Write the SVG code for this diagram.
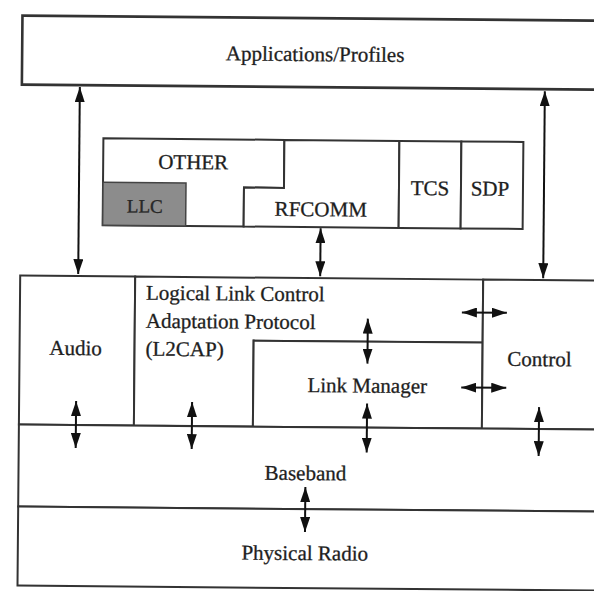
<svg xmlns="http://www.w3.org/2000/svg" width="594" height="591" viewBox="0 0 594 591">
<style>
.box{fill:#ffffff;stroke:#333333;stroke-width:2}
.thick{stroke-width:2.6}
.lbl{font-family:'Liberation Serif','Times New Roman','DejaVu Serif',serif;font-size:21px;fill:#1e1e1e;stroke:#1e1e1e;stroke-width:0.3}
.mid{text-anchor:middle}
.arr{stroke:#111111;stroke-width:2;fill:none;marker-start:url(#ah);marker-end:url(#ah)}
</style>
<defs>
<marker id="ah" viewBox="0 0 15 10" refX="15" refY="5" markerWidth="15" markerHeight="10" markerUnits="userSpaceOnUse" orient="auto-start-reverse">
<path d="M0,0 L15,5 L0,10 z" fill="#111111"/>
</marker>
</defs>
<rect x="0" y="0" width="594" height="591" fill="#ffffff"/>
<g transform="rotate(0.5 297 300)" font-family="'Liberation Serif', serif">
<g id="applications">
<rect class="box thick" x="20" y="18" width="600" height="69"/>
<text class="lbl mid" x="313" y="61">Applications/Profiles</text>
</g>
<g id="other">
<polygon class="box" points="102,140 283,140 283,188 243,188 243,227 102,227"/>
<text class="lbl mid" x="192" y="170">OTHER</text>
</g>
<g id="llc">
<rect x="102" y="184" width="83" height="43" fill="#8c8c8c" stroke="#444444" stroke-width="1.5"/>
<text class="lbl mid" x="144" y="214" style="font-size:19px;fill:#2a2a2a">LLC</text>
</g>
<g id="rfcomm">
<polygon class="box" points="283,140 398,140 398,227 243,227 243,188 283,188"/>
<text class="lbl mid" x="320" y="216">RFCOMM</text>
</g>
<g id="tcs">
<rect class="box" x="398" y="140" width="62" height="87"/>
<text class="lbl mid" x="429" y="194">TCS</text>
</g>
<g id="sdp">
<rect class="box" x="460" y="140" width="62" height="87"/>
<text class="lbl mid" x="489" y="194">SDP</text>
</g>
<g id="audio">
<rect class="box" x="20" y="278" width="115" height="149"/>
<text class="lbl mid" x="76" y="357">Audio</text>
</g>
<g id="l2cap">
<polygon class="box" points="135,278 483,278 483,341 254,341 254,427 135,427"/>
<text class="lbl" x="146" y="301">Logical Link Control</text>
<text class="lbl" x="146" y="329">Adaptation Protocol</text>
<text class="lbl" x="146" y="357">(L2CAP)</text>
</g>
<g id="link-manager">
<rect class="box" x="254" y="341" width="229" height="86"/>
<text class="lbl mid" x="368" y="392">Link Manager</text>
</g>
<g id="control">
<rect class="box" x="483" y="278" width="137" height="149"/>
<text class="lbl mid" x="540" y="364">Control</text>
</g>
<g id="baseband">
<rect class="box" x="20" y="427" width="600" height="82"/>
<text class="lbl mid" x="307" y="480">Baseband</text>
</g>
<g id="physical-radio">
<rect class="box" x="20" y="509" width="600" height="79"/>
<text class="lbl mid" x="307" y="560">Physical Radio</text>
</g>
<g id="connectors">
<line class="arr" x1="78" y1="89" x2="78" y2="276"/>
<line class="arr" x1="543" y1="89" x2="543" y2="276"/>
<line class="arr" x1="320" y1="228" x2="320" y2="276"/>
<line class="arr" x1="368" y1="318" x2="368" y2="363"/>
<line class="arr" x1="462" y1="311" x2="507" y2="311"/>
<line class="arr" x1="462" y1="386" x2="507" y2="386"/>
<line class="arr" x1="77" y1="403" x2="77" y2="450"/>
<line class="arr" x1="193" y1="403" x2="193" y2="450"/>
<line class="arr" x1="368" y1="403" x2="368" y2="452"/>
<line class="arr" x1="540" y1="405" x2="540" y2="454"/>
<line class="arr" x1="307" y1="487" x2="307" y2="532"/>
</g>
</g>
</svg>
